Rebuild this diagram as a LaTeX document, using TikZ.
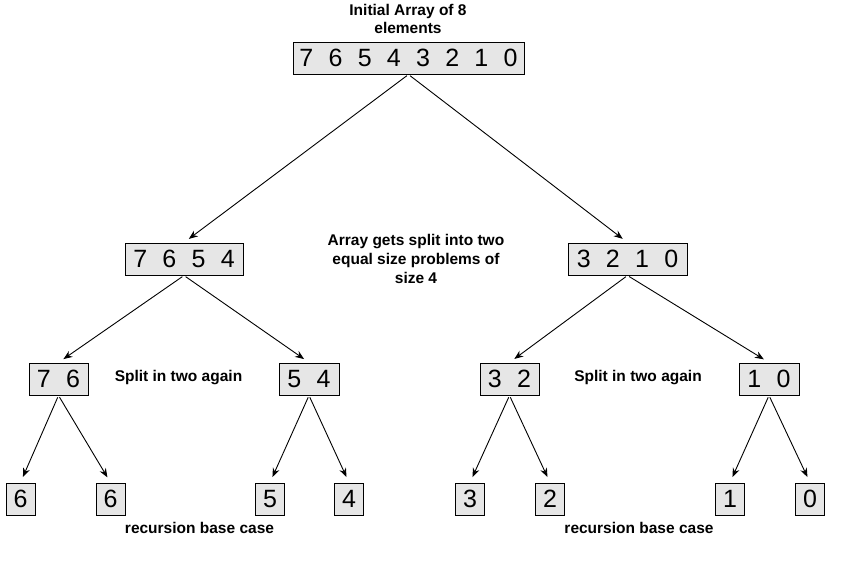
\documentclass[tikz,border=0pt]{standalone}
\usepackage{fontspec}
\setmainfont{Liberation Sans}
\newfontfamily\digitfont[WordSpace=2.2]{Liberation Sans}
\usetikzlibrary{arrows.meta}
\definecolor{boxfill}{RGB}{230,230,230}
\begin{document}
\begin{tikzpicture}[x=1pt,y=-1pt,
  arr/.style={draw=black, line width=0.9pt, -{Stealth[length=9pt,width=7pt]}, shorten <=2pt, shorten >=6pt},
  cell/.style={draw=black, fill=boxfill, line width=1pt, font=\digitfont\fontsize{25}{25}\selectfont, minimum height=32pt, inner sep=0pt, anchor=center},
  lbl/.style={font=\bfseries\fontsize{15.5}{18.5}\selectfont, align=center}]
\useasboundingbox (0,0) rectangle (860,565);
% top
\node[cell, minimum width=231pt] (a) at (408.5,58) {7 6 5 4 3 2 1 0};
% level 2
\node[cell, minimum width=118pt] (b) at (184,259) {7 6 5 4};
\node[cell, minimum width=119pt] (c) at (627.5,259) {3 2 1 0};
% level 3
\node[cell, minimum width=59pt] (d) at (58.5,379) {7 6};
\node[cell, minimum width=60pt] (e) at (309,379) {5 4};
\node[cell, minimum width=59pt] (f) at (509.5,379) {3 2};
\node[cell, minimum width=60pt] (g) at (769,379) {1 0};
% leaves
\node[cell, minimum width=29pt] (h1) at (20.5,499) {6};
\node[cell, minimum width=29pt] (h2) at (110.5,499) {6};
\node[cell, minimum width=29pt] (h3) at (270,499) {5};
\node[cell, minimum width=29pt] (h4) at (349,499) {4};
\node[cell, minimum width=29pt] (h5) at (470,499) {3};
\node[cell, minimum width=29pt] (h6) at (550,499) {2};
\node[cell, minimum width=29pt] (h7) at (730,499) {1};
\node[cell, minimum width=29pt] (h8) at (810,499) {0};
% labels
\node[lbl] (t1) at (408,19) {Initial Array of 8\\elements};
\node[lbl, font=\bfseries\fontsize{15.5}{19}\selectfont] (t2) at (416,259) {Array gets split into two\\equal size problems of\\size 4};
\node[lbl] (s1) at (178.5,378) {Split in two again};
\node[lbl] (s2) at (638,378) {Split in two again};
\node[lbl] (r1) at (199.5,528) {recursion base case};
\node[lbl] (r2) at (639,528) {recursion base case};
% arrows
\draw[arr] (a.south) -- (b.north);
\draw[arr] (a.south) -- (c.north);
\draw[arr] (b.south) -- (d.north);
\draw[arr] (b.south) -- (e.north);
\draw[arr] (c.south) -- (f.north);
\draw[arr] (c.south) -- (g.north);
\draw[arr] (d.south) -- (h1.north);
\draw[arr] (d.south) -- (h2.north);
\draw[arr] (e.south) -- (h3.north);
\draw[arr] (e.south) -- (h4.north);
\draw[arr] (f.south) -- (h5.north);
\draw[arr] (f.south) -- (h6.north);
\draw[arr] (g.south) -- (h7.north);
\draw[arr] (g.south) -- (h8.north);
\end{tikzpicture}
\end{document}
